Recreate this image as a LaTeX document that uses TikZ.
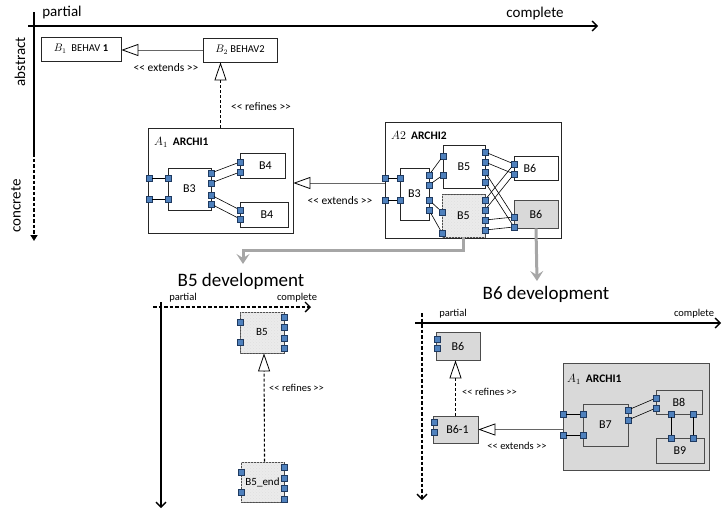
\documentclass[tikz,border=0pt]{standalone}
\usepackage{fontspec}
\setmainfont{Carlito}
\usetikzlibrary{arrows.meta,patterns}
\definecolor{portblue}{HTML}{4F81BD}
\definecolor{portedge}{HTML}{1F3A60}
\definecolor{boxgray}{HTML}{D9D9D9}
\definecolor{texgray}{HTML}{EBEBEB}
\definecolor{flowgray}{HTML}{A6A6A6}
\newcommand{\lle}{<{}<}
\newcommand{\gge}{>{}>}
\begin{document}
\begin{tikzpicture}[x=1pt,y=-1pt,
  blk/.style={draw=black!85, line width=0.7pt, fill=white, inner sep=0pt, font=\fontsize{12}{13}\selectfont},
  graybox/.style={blk, fill=boxgray, draw=black!70},
  texbox/.style={blk, fill=texgray, draw=black!70, postaction={pattern=crosshatch dots, pattern color=black!12}},
  port/.style={draw=portedge, fill=portblue, line width=0.5pt, minimum size=5.5pt, inner sep=0pt},
  wire/.style={draw=black, line width=0.6pt},
  extends/.style={draw=black!60, line width=1pt, -{Triangle[open, length=17pt, width=12pt, line width=0.8pt, color=black]}},
  refines/.style={draw=black, line width=1.1pt, dash pattern=on 3pt off 2pt, -{Triangle[open, length=18pt, width=12pt, line width=0.8pt]}},
  lbl/.style={font=\fontsize{11.5}{13}\selectfont, inner sep=1pt},
  smalllbl/.style={font=\fontsize{10.5}{12}\selectfont, inner sep=1pt},
  axlbl/.style={font=\fontsize{15}{17}\selectfont, inner sep=1pt},
  biglbl/.style={font=\fontsize{19}{22}\selectfont, inner sep=1pt},
  axisline/.style={line width=1.3pt},
  barb/.style={-{Straight Barb[length=5pt, width=10pt, line width=1.3pt]}},
  dashax/.style={line width=1.6pt, dash pattern=on 3.5pt off 2pt},
  flow/.style={draw=flowgray, line width=3pt, -{Stealth[length=10pt, width=13pt, inset=4pt]}}
]
\useasboundingbox (0,0) rectangle (722,509);

% ---------- main axes ----------
\coordinate (tx0) at (28,26);
\coordinate (tx1) at (598,26);
\draw[axisline, barb] (tx0) -- (tx1);
\coordinate (ty0) at (34,12);
\coordinate (ty1) at (34,153);
\coordinate (ty2) at (34,241);
\draw[axisline] (ty0) -- (ty1);
\draw[dashax, -{Triangle[length=6pt, width=7pt]}] (ty1) -- (ty2);
\node[axlbl] (tpartial) at (62,12) {partial};
\node[axlbl] (tcomplete) at (535,13) {complete};
\node[axlbl, rotate=90] (tabstract) at (20,62) {abstract};
\node[axlbl, rotate=90] (tconcrete) at (16,206) {concrete};

% ---------- behaviours ----------
\node[blk, minimum width=80pt, minimum height=24pt, font=\fontsize{10.5}{12}\selectfont] (B1) at (81,49) {$B_1$\ \ BEHAV \textbf{1}};
\node[blk, minimum width=74pt, minimum height=24pt, font=\fontsize{10.5}{12}\selectfont] (B2) at (240,50) {$B_2$ BEHAV2};
\draw[extends] (B2.west) -- (B2.west -| B1.east);
\node[lbl] (ext1) at (166,68) {\lle{} extends \gge};

% ---------- ARCHI1 ----------
\node[blk, minimum width=145pt, minimum height=105pt] (A1a) at (220.5,180.5) {};
\node[lbl, anchor=west] (A1alab) at (153,142) {$A_1$\ \ \textbf{ARCHI1}};
\node[blk, minimum width=43pt, minimum height=42pt] (B3a) at (189.5,189) {B3};
\node[blk, minimum width=45pt, minimum height=25pt] (B4a) at (262.5,165.5) {\hspace*{6pt}B4};
\node[blk, minimum width=48pt, minimum height=25pt] (B4b) at (264,214.5) {\hspace*{6pt}B4};
\draw[refines] (A1a.north) -- (A1a.north |- B2.south);
\node[lbl] (ref1) at (261,107) {\lle{} refines \gge};

\node[port] (a1p1) at (149,178) {};
\node[port] (a1p2) at (149,199) {};
\node[port] (b3al1) at (168,178) {};
\node[port] (b3al2) at (168,199) {};
\node[port] (b3ar1) at (211,173) {};
\node[port] (b3ar2) at (211,183) {};
\node[port] (b3ar3) at (211,195) {};
\node[port] (b3ar4) at (211,204) {};
\node[port] (b4a1) at (240,162) {};
\node[port] (b4a2) at (240,172) {};
\node[port] (b4b1) at (240,210) {};
\node[port] (b4b2) at (240,219) {};
\draw[wire] (a1p1) -- (b3al1);
\draw[wire] (a1p2) -- (b3al2);
\draw[wire] (b3ar1) -- (b4a1);
\draw[wire] (b3ar2) -- (b4a2);
\draw[wire] (b3ar3) -- (b4b1);
\draw[wire] (b3ar4) -- (b4b2);

% ---------- ARCHI2 ----------
\node[blk, minimum width=176pt, minimum height=116pt] (A2) at (473,180) {};
\node[lbl, anchor=west] (A2lab) at (390,135) {$A2$\ \ \textbf{ARCHI2}};
\node[blk, minimum width=29pt, minimum height=52pt] (B3b) at (414.5,194) {B3};
\node[blk, minimum width=42pt, minimum height=43pt] (B5a) at (464,166.5) {B5};
\node[texbox, minimum width=43pt, minimum height=43pt] (B5b) at (463.5,215.5) {B5};
\node[blk, minimum width=44pt, minimum height=24pt] (B6a) at (536,168) {B6\hspace*{12pt}};
\node[graybox, minimum width=44pt, minimum height=28pt] (B6b) at (536,214) {B6};
\draw[extends] ([yshift=-3pt]A2.west) -- ([yshift=-3pt]A2.west -| A1a.east);
\node[lbl] (ext2) at (340,201) {\lle{} extends \gge};

\node[port] (a2p1) at (385,178) {};
\node[port] (a2p2) at (385,200) {};
\node[port] (b3bl1) at (400,178) {};
\node[port] (b3bl2) at (400,200) {};
\node[port] (b3br1) at (429,175) {};
\node[port] (b3br2) at (429,185) {};
\node[port] (b3br3) at (429,200) {};
\node[port] (b3br4) at (429,210) {};
\node[port] (b5al1) at (443,156) {};
\node[port] (b5al2) at (443,175) {};
\node[port] (b5ar1) at (485,152) {};
\node[port] (b5ar2) at (485,162) {};
\node[port] (b5ar3) at (485,172) {};
\node[port] (b5ar4) at (485,182) {};
\node[port] (b5bl1) at (442,212) {};
\node[port] (b5bl2) at (442,233) {};
\node[port] (b5br1) at (485,200) {};
\node[port] (b5br2) at (485,210) {};
\node[port] (b5br3) at (485,220) {};
\node[port] (b5br4) at (485,230) {};
\node[port] (b6a1) at (514,164) {};
\node[port] (b6a2) at (514,174) {};
\node[port] (b6b1) at (514,217) {};
\node[port] (b6b2) at (514,227) {};
\draw[wire] (a2p1) -- (b3bl1);
\draw[wire] (a2p2) -- (b3bl2);
\draw[wire] (b3br1) -- (b5al1);
\draw[wire] (b3br2) -- (b5al2);
\draw[wire] (b3br3) -- (b5bl1);
\draw[wire] (b3br4) -- (b5bl2);
\draw[wire] (b5ar1) -- (b6a1);
\draw[wire] (b5ar2) -- (b6a2);
\draw[wire] (b5ar3) -- (b6b1);
\draw[wire] (b5ar4) -- (b6b2);
\draw[wire] (b5br1) -- (b6a1);
\draw[wire] (b5br2) -- (b6a2);
\draw[wire] (b5br3) -- (b6b1);
\draw[wire] (b5br4) -- (b6b2);

% ---------- development flows ----------
\coordinate (g1) at (243,264);
\coordinate (g2) at (537,281);
\draw[flow] (B5b.south) -- ++(0,13) -| (g1);
\draw[flow] (B6b.south) -- (g2);
\node[biglbl] (B5dev) at (241,281) {B5 development};
\node[biglbl] (B6dev) at (546,294) {B6 development};

% ---------- B5 development ----------
\coordinate (hx0) at (153,307);
\coordinate (hx1) at (311,307);
\draw[dashax, barb] (hx0) -- (hx1);
\coordinate (hy0) at (161,302);
\coordinate (hy1) at (161,508);
\draw[axisline, barb] (hy0) -- (hy1);
\node[smalllbl] (hpartial) at (183,298) {partial};
\node[smalllbl] (hcomplete) at (297,298) {complete};
\node[texbox, minimum width=44pt, minimum height=41pt, font=\fontsize{11}{12}\selectfont] (B5c) at (262,332.5) {B5};
\node[texbox, minimum width=43pt, minimum height=40pt, font=\fontsize{11}{12}\selectfont] (B5end) at (262.5,482) {B5\_end};
\draw[refines] ([xshift=2pt]B5end.north) -- ([xshift=2pt]B5c.south);
\node[smalllbl, anchor=west] (ref2) at (268,388) {\lle{} refines \gge};
\node[port] (b5cl1) at (240,322) {};
\node[port] (b5cl2) at (240,342) {};
\node[port] (b5cr1) at (284,317) {};
\node[port] (b5cr2) at (284,327) {};
\node[port] (b5cr3) at (284,338) {};
\node[port] (b5cr4) at (284,348) {};
\node[port] (b5el1) at (241,472) {};
\node[port] (b5el2) at (241,492) {};
\node[port] (b5er1) at (284,467) {};
\node[port] (b5er2) at (284,478) {};
\node[port] (b5er3) at (284,488) {};
\node[port] (b5er4) at (284,499) {};

% ---------- B6 development ----------
\coordinate (kx0) at (415,323);
\coordinate (kx1) at (721,323);
\draw[axisline, barb] (kx0) -- (kx1);
\coordinate (ky0) at (422,313);
\coordinate (ky1) at (422,500);
\draw[dashax, barb] (ky0) -- (ky1);
\node[smalllbl] (kpartial) at (453,314) {partial};
\node[smalllbl] (kcomplete) at (694,314) {complete};
\node[graybox, minimum width=44pt, minimum height=28pt] (B6c) at (458,346) {B6};
\node[graybox, minimum width=45pt, minimum height=27pt] (B61) at (455.5,429.5) {\hspace*{4pt}B6-1};
\draw[refines] (B61.north) -- (B61.north |- B6c.south);
\node[smalllbl, anchor=west] (ref3) at (461,392) {\lle{} refines \gge};
\node[graybox, minimum width=146pt, minimum height=107pt] (A1c) at (636,416.5) {};
\node[lbl, anchor=west] (A1clab) at (566,379) {$A_1$\ \ \textbf{ARCHI1}};
\node[graybox, minimum width=45pt, minimum height=42pt] (B7) at (605.5,425) {B7};
\node[graybox, minimum width=46pt, minimum height=24pt] (B8) at (679,402) {B8};
\node[graybox, minimum width=48pt, minimum height=25pt] (B9) at (680,450.5) {B9};
\draw[extends] (B61.east -| A1c.west) -- (B61.east);
\node[smalllbl] (ext3) at (517,446) {\lle{} extends \gge};
\node[port] (b6c1) at (437,339) {};
\node[port] (b6c2) at (437,348) {};
\node[port] (b611) at (434,422) {};
\node[port] (b612) at (434,432) {};
\node[port] (a1c1) at (563,414) {};
\node[port] (a1c2) at (563,435) {};
\node[port] (b7l1) at (583,414) {};
\node[port] (b7l2) at (583,435) {};
\node[port] (b7r1) at (628,410) {};
\node[port] (b7r2) at (628,420) {};
\node[port] (b8l1) at (656,398) {};
\node[port] (b8l2) at (656,408) {};
\node[port] (b8b1) at (671,414) {};
\node[port] (b8b2) at (693,414) {};
\node[port] (b9t1) at (671,438) {};
\node[port] (b9t2) at (693,438) {};
\draw[wire] (a1c1) -- (b7l1);
\draw[wire] (a1c2) -- (b7l2);
\draw[wire] (b7r1) -- (b8l1);
\draw[wire] (b7r2) -- (b8l2);
\draw[wire] (b8b1) -- (b9t1);
\draw[wire] (b8b2) -- (b9t2);
\end{tikzpicture}
\end{document}
